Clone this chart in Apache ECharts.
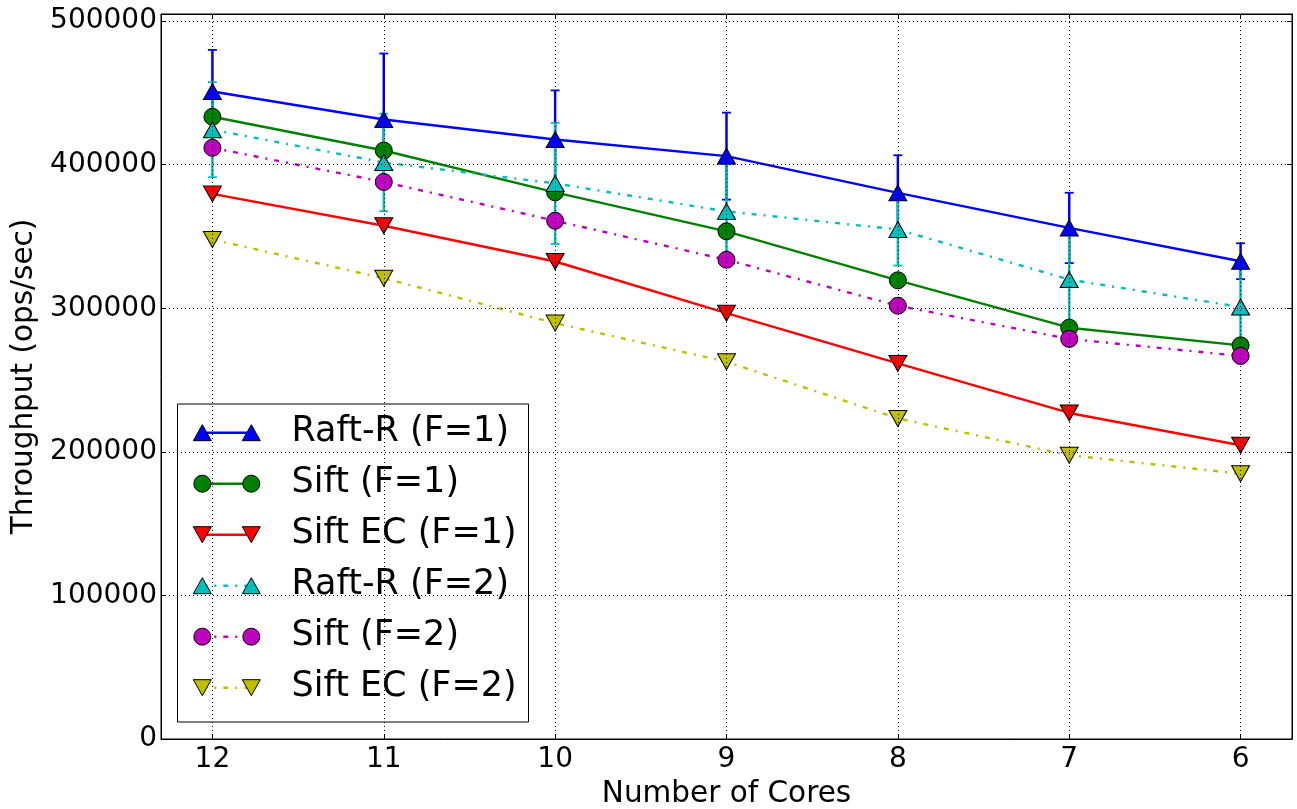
<!DOCTYPE html>
<html>
<head>
<meta charset="utf-8">
<title>Throughput vs Number of Cores</title>
<script src="https://cdn.jsdelivr.net/npm/echarts@6/dist/echarts.min.js"></script>
<style>
  html, body { margin: 0; padding: 0; background: #fff; }
  #chart { width: 1297px; height: 809px; }
</style>
</head>
<body>
<div id="chart"></div>
<script>
// ---- data ----
const cores = [12, 11, 10, 9, 8, 7, 6];

const raftR1    = [451000, 431500, 417600, 406000, 380400, 356000, 332800];
const raftR1Err = [29000, 46000, 34200, 30300, 26200, 24500, 12500];
const sift1     = [433400, 409900, 380800, 353600, 319500, 286500, 274200];
const siftEC1   = [379700, 357500, 332600, 296600, 261600, 227100, 204600];
const raftR2    = [424400, 401600, 387000, 367500, 354900, 320000, 300900];
const raftR2Err = [33100, 34000, 42200, 33000, 25100, 34000, 28000];
const sift2     = [411800, 388000, 361000, 333800, 301800, 278700, 266800];
const siftEC2   = [347900, 321000, 289700, 262800, 223300, 197700, 184800];

const yTicks = [0, 100000, 200000, 300000, 400000, 500000];
const seriesNames = ['Raft-R (F=1)', 'Sift (F=1)', 'Sift EC (F=1)',
                     'Raft-R (F=2)', 'Sift (F=2)', 'Sift EC (F=2)'];

// ---- styling ----
const FONT = 'DejaVu Sans';
const DASHDOT = [5, 7, 2, 7];
const LINE_W = 2.4;
const specs = [
  { name: seriesNames[0], vals: raftR1,  color: '#0000ff', marker: 'up',     dash: null },
  { name: seriesNames[1], vals: sift1,   color: '#008000', marker: 'circle', dash: null },
  { name: seriesNames[2], vals: siftEC1, color: '#ff0000', marker: 'down',   dash: null },
  { name: seriesNames[3], vals: raftR2,  color: '#00bfbf', marker: 'up',     dash: DASHDOT },
  { name: seriesNames[4], vals: sift2,   color: '#bf00bf', marker: 'circle', dash: DASHDOT },
  { name: seriesNames[5], vals: siftEC2, color: '#bfbf00', marker: 'down',   dash: DASHDOT }
];

function lineSeries(s) {
  const isCircle = s.marker === 'circle';
  return {
    type: 'line',
    name: s.name,
    z: 2,
    data: cores.map((c, i) => [c, s.vals[i]]),
    symbol: isCircle ? 'circle' : 'triangle',
    symbolSize: isCircle ? 17 : [18, 16],
    symbolRotate: s.marker === 'down' ? 180 : 0,
    showSymbol: true,
    itemStyle: { color: s.color, borderColor: '#000', borderWidth: 1, opacity: 1 },
    lineStyle: { color: s.color, width: LINE_W, type: s.dash || 'solid', cap: 'butt' },
    emphasis: { disabled: true },
    animation: false
  };
}

// vertical error bars with caps, drawn beneath all lines and markers
function errorSeries(name, vals, errs, color) {
  return {
    type: 'custom',
    name: name + ' err',
    z: 1,
    silent: true,
    animation: false,
    data: cores.map((c, i) => [c, vals[i] - errs[i], vals[i] + errs[i]]),
    encode: { x: 0, y: [1, 2] },
    renderItem: function (params, api) {
      const lo = api.coord([api.value(0), api.value(1)]);
      const hi = api.coord([api.value(0), api.value(2)]);
      const hw = 4.5;
      return {
        type: 'group',
        children: [
          { type: 'line', shape: { x1: lo[0], y1: lo[1], x2: hi[0], y2: hi[1] },
            style: { stroke: color, lineWidth: 2.5 } },
          { type: 'line', shape: { x1: hi[0] - hw, y1: hi[1], x2: hi[0] + hw, y2: hi[1] },
            style: { stroke: color, lineWidth: 1.8 } },
          { type: 'line', shape: { x1: lo[0] - hw, y1: lo[1], x2: lo[0] + hw, y2: lo[1] },
            style: { stroke: color, lineWidth: 1.8 } }
        ]
      };
    }
  };
}

// ---- legend (markers at both ends of a line sample) ----
const LEG = { x: 177.5, y: 404, w: 351, h: 318, row0: 432.7, rowStep: 51,
              mx1: 202.3, mx2: 251.3, tx: 291.5 };

function legendMarker(kind, cx, cy, color) {
  const style = { fill: color, stroke: '#000', lineWidth: 1 };
  if (kind === 'circle') {
    return { type: 'circle', shape: { cx: cx, cy: cy, r: 8.5 }, style: style };
  }
  const w = 9, h = 8;
  const pts = kind === 'up'
    ? [[cx, cy - h], [cx + w, cy + h], [cx - w, cy + h]]
    : [[cx, cy + h], [cx + w, cy - h], [cx - w, cy - h]];
  return { type: 'polygon', shape: { points: pts }, style: style };
}

const legendChildren = [{
  type: 'rect',
  shape: { x: LEG.x, y: LEG.y, width: LEG.w, height: LEG.h },
  style: { fill: '#fff', stroke: '#000', lineWidth: 1 }
}];
specs.forEach((s, i) => {
  const cy = LEG.row0 + LEG.rowStep * i;
  legendChildren.push({
    type: 'line',
    shape: { x1: LEG.mx1, y1: cy, x2: LEG.mx2, y2: cy },
    style: { stroke: s.color, lineWidth: LINE_W, lineDash: s.dash || null }
  });
  legendChildren.push(legendMarker(s.marker, LEG.mx1, cy, s.color));
  legendChildren.push(legendMarker(s.marker, LEG.mx2, cy, s.color));
  legendChildren.push({
    type: 'text',
    x: LEG.tx, y: cy - 1,
    style: { text: s.name, fill: '#000', font: '35px "' + FONT + '"',
             align: 'left', verticalAlign: 'middle' }
  });
});

// ---- axes ----
const axisText = { fontFamily: FONT, fontSize: 28, color: '#000' };
const titleText = { fontFamily: FONT, fontSize: 29.5, color: '#000' };
const gridDots = { color: '#000', width: 1, type: [1, 3] };

const option = {
  backgroundColor: '#fff',
  animation: false,
  grid: { left: 161, right: 5, top: 14, bottom: 70, containLabel: false, outerBoundsMode: 'none',
          show: true, borderColor: '#000', borderWidth: 1, backgroundColor: '#fff' },
  xAxis: [{
    type: 'value', inverse: true, min: 5.7, max: 12.3, position: 'bottom', z: 3,
    axisLine: { show: true, onZero: false, lineStyle: { color: '#000', width: 1 } },
    axisTick: { show: true, inside: true, length: 5, customValues: cores,
                lineStyle: { color: '#000', width: 1 } },
    axisLabel: { show: true, customValues: cores, margin: 7, formatter: v => String(v), ...axisText },
    splitLine: { show: true, lineStyle: gridDots },
    name: 'Number of Cores', nameLocation: 'middle', nameGap: 39,
    nameTextStyle: { ...titleText }
  }, {
    type: 'value', inverse: true, min: 5.7, max: 12.3, position: 'top', z: 3,
    axisLine: { show: true, onZero: false, lineStyle: { color: '#000', width: 1 } },
    axisTick: { show: true, inside: true, length: 5, customValues: cores,
                lineStyle: { color: '#000', width: 1 } },
    axisLabel: { show: false },
    splitLine: { show: false }
  }],
  yAxis: [{
    type: 'value', min: 0, max: 505000, interval: 100000, position: 'left', z: 3,
    axisLine: { show: true, onZero: false, lineStyle: { color: '#000', width: 1 } },
    axisTick: { show: true, inside: true, length: 5, customValues: yTicks,
                lineStyle: { color: '#000', width: 1 } },
    axisLabel: { show: true, customValues: yTicks, margin: 4, formatter: v => String(v), ...axisText },
    splitLine: { show: true, lineStyle: gridDots },
    name: 'Throughput (ops/sec)', nameLocation: 'middle', nameGap: 108,
    nameTextStyle: { ...titleText }
  }, {
    type: 'value', min: 0, max: 505000, interval: 100000, position: 'right', z: 3,
    axisLine: { show: true, onZero: false, lineStyle: { color: '#000', width: 1 } },
    axisTick: { show: true, inside: true, length: 5, customValues: yTicks,
                lineStyle: { color: '#000', width: 1 } },
    axisLabel: { show: false },
    splitLine: { show: false }
  }],
  series: [
    errorSeries(seriesNames[0], raftR1, raftR1Err, '#0000ff'),
    errorSeries(seriesNames[3], raftR2, raftR2Err, '#00bfbf'),
    ...specs.map(lineSeries)
  ],
  graphic: [{ type: 'group', z: 10, silent: true, children: legendChildren }]
};

const chart = echarts.init(document.getElementById('chart'), null, { renderer: 'canvas' });
chart.setOption(option);
</script>
</body>
</html>
